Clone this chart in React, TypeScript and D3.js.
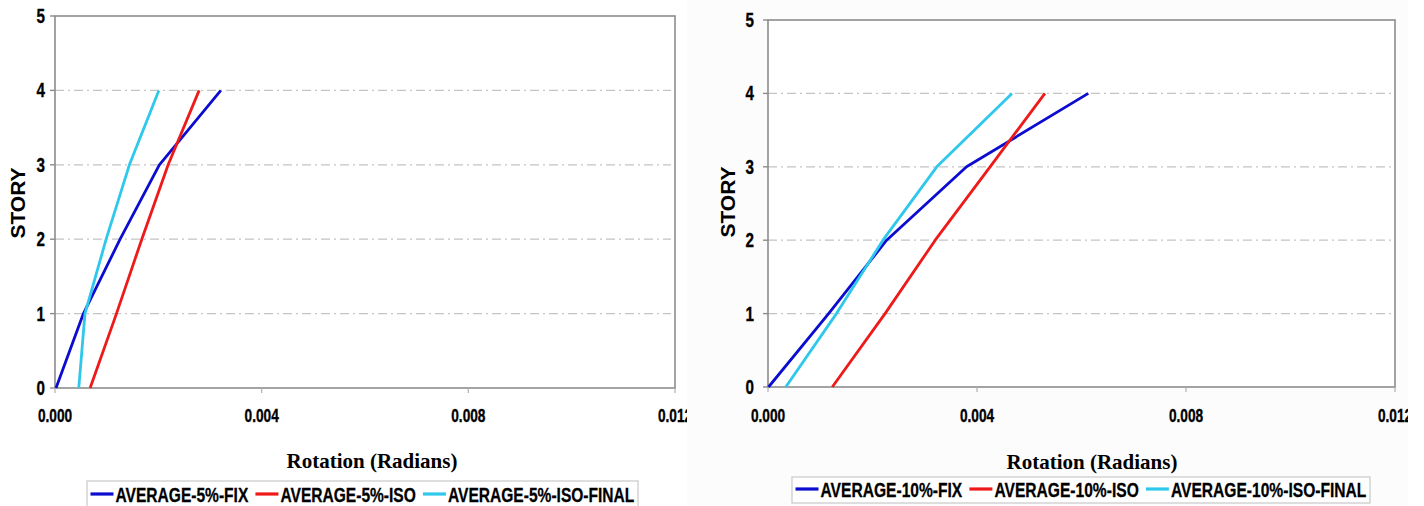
import React, { useEffect, useRef } from "react";
import * as d3 from "d3";

const stories = [0, 1, 2, 3, 4];
const xTicks = [0, 0.004, 0.008, 0.012];
const yTicks = [0, 1, 2, 3, 4, 5];
const gridStories = [1, 2, 3, 4];

const fix5 = [0.00002, 0.00055, 0.00126, 0.00202, 0.00321];
const iso5 = [0.00068, 0.00119, 0.00168, 0.00219, 0.00279];
const isoFinal5 = [0.00046, 0.00058, 0.00099, 0.00144, 0.00201];

const fix10 = [0.00001, 0.00116, 0.00227, 0.0038, 0.00613];
const iso10 = [0.00123, 0.00224, 0.0032, 0.00425, 0.0053];
const isoFinal10 = [0.00034, 0.00131, 0.0022, 0.00323, 0.00467];

const names5 = ["AVERAGE-5%-FIX", "AVERAGE-5%-ISO", "AVERAGE-5%-ISO-FINAL"];
const names10 = ["AVERAGE-10%-FIX", "AVERAGE-10%-ISO", "AVERAGE-10%-ISO-FINAL"];
const colors = ["#0c0cd0", "#ee1a1a", "#2ec8ec"];

const yTitle = "STORY";
const xTitle = "Rotation (Radians)";

const NARROW = 0.76;
const SANS = "'Liberation Sans', Arial, sans-serif";
const SERIF = "'Liberation Serif', 'Times New Roman', serif";

export default function App() {
  const ref = useRef<SVGSVGElement | null>(null);

  useEffect(() => {
    const svg = d3.select(ref.current);
    svg.selectAll("*").remove();

    const panels = [
      {
        id: "p5",
        left: 55, right: 675, top: 16, bottom: 388,
        clipX: 0, clipW: 687,
        yLabelX: 45, yTitleX: 18, yTitleY: 203,
        xTickY: 422, xTitleX: 372, xTitleY: 468,
        legend: { x0: 87, x1: 638, y0: 481, y1: 512, lineY: 494, textY: 502 },
        series: [fix5, iso5, isoFinal5],
        names: names5,
        bg: "#ffffff",
      },
      {
        id: "p10",
        left: 768, right: 1395, top: 20, bottom: 387,
        clipX: 687, clipW: 721,
        yLabelX: 754, yTitleX: 728, yTitleY: 202,
        xTickY: 422, xTitleX: 1092, xTitleY: 469,
        legend: { x0: 792, x1: 1370, y0: 477, y1: 503, lineY: 489, textY: 497 },
        series: [fix10, iso10, isoFinal10],
        names: names10,
        bg: "#fcfcfc",
      },
    ];

    const defs = svg.append("defs");

    panels.forEach((p) => {
      defs
        .append("clipPath")
        .attr("id", "clip-" + p.id)
        .append("rect")
        .attr("x", p.clipX)
        .attr("y", 0)
        .attr("width", p.clipW)
        .attr("height", 506);

      const g = svg.append("g").attr("clip-path", `url(#clip-${p.id})`);

      g.append("rect")
        .attr("x", p.clipX)
        .attr("y", 0)
        .attr("width", p.clipW)
        .attr("height", 506)
        .attr("fill", p.bg);

      const x = d3.scaleLinear().domain([0, 0.012]).range([p.left, p.right]);
      const y = d3.scaleLinear().domain([0, 5]).range([p.bottom, p.top]);

      g.append("rect")
        .attr("x", p.left)
        .attr("y", p.top)
        .attr("width", p.right - p.left)
        .attr("height", p.bottom - p.top)
        .attr("fill", "#ffffff");

      g.selectAll(".grid")
        .data(gridStories)
        .enter()
        .append("line")
        .attr("x1", p.left)
        .attr("x2", p.right - 4)
        .attr("y1", (d) => y(d))
        .attr("y2", (d) => y(d))
        .attr("stroke", "#c4c4c4")
        .attr("stroke-width", 1.2)
        .attr("stroke-dasharray", "9,4,2,4");

      g.append("rect")
        .attr("x", p.left)
        .attr("y", p.top)
        .attr("width", p.right - p.left)
        .attr("height", p.bottom - p.top)
        .attr("fill", "none")
        .attr("stroke", "#8c8c8c")
        .attr("stroke-width", 1.6);

      g.selectAll(".ytick")
        .data(yTicks)
        .enter()
        .append("line")
        .attr("x1", p.left - 5)
        .attr("x2", p.left)
        .attr("y1", (d) => y(d))
        .attr("y2", (d) => y(d))
        .attr("stroke", "#8c8c8c")
        .attr("stroke-width", 1.4);

      g.selectAll(".xtick")
        .data(xTicks)
        .enter()
        .append("line")
        .attr("x1", (d) => x(d))
        .attr("x2", (d) => x(d))
        .attr("y1", p.bottom)
        .attr("y2", p.bottom + 5)
        .attr("stroke", "#b0b0b0")
        .attr("stroke-width", 1.2);

      g.selectAll(".ylab")
        .data(yTicks)
        .enter()
        .append("text")
        .attr("transform", (d) => `translate(${p.yLabelX},${y(d) + 7}) scale(${NARROW},1)`)
        .attr("text-anchor", "end")
        .attr("font-family", SANS)
        .attr("font-weight", "bold")
        .attr("font-size", 20)
        .attr("fill", "#000")
        .attr("stroke", "#000")
        .attr("stroke-width", 0.35)
        .text((d) => String(d));

      const fmt = d3.format(".3f");
      g.selectAll(".xlab")
        .data(xTicks)
        .enter()
        .append("text")
        .attr("transform", (d) => `translate(${x(d)},${p.xTickY}) scale(${NARROW},1)`)
        .attr("text-anchor", "middle")
        .attr("font-family", SANS)
        .attr("font-weight", "bold")
        .attr("font-size", 18)
        .attr("fill", "#000")
        .attr("stroke", "#000")
        .attr("stroke-width", 0.35)
        .text((d) => fmt(d));

      g.append("text")
        .attr("transform", `translate(${p.yTitleX + 7},${p.yTitleY}) rotate(-90)`)
        .attr("text-anchor", "middle")
        .attr("font-family", SANS)
        .attr("font-weight", "bold")
        .attr("font-size", 21)
        .attr("fill", "#000")
        .text(yTitle);

      g.append("text")
        .attr("x", p.xTitleX)
        .attr("y", p.xTitleY)
        .attr("text-anchor", "middle")
        .attr("font-family", SERIF)
        .attr("font-weight", "bold")
        .attr("font-size", 21)
        .attr("fill", "#000")
        .text(xTitle);

      const line = d3
        .line<number>()
        .x((d) => x(d))
        .y((_, i) => y(stories[i]));

      p.series.forEach((s, i) => {
        g.append("path")
          .datum(s)
          .attr("d", line)
          .attr("fill", "none")
          .attr("stroke", colors[i])
          .attr("stroke-width", 2.8)
          .attr("stroke-linejoin", "round");
      });

      const L = p.legend;
      g.append("rect")
        .attr("x", L.x0)
        .attr("y", L.y0)
        .attr("width", L.x1 - L.x0)
        .attr("height", L.y1 - L.y0)
        .attr("fill", "#ffffff")
        .attr("stroke", "#c8c8c8")
        .attr("stroke-width", 1.2);

      const items = p.names.map((n, i) => {
        const t = g
          .append("text")
          .attr("font-family", SANS)
          .attr("font-weight", "bold")
          .attr("font-size", 21)
          .attr("fill", "#000")
          .attr("stroke", "#000")
          .attr("stroke-width", 0.3)
          .attr("text-anchor", "start")
          .text(n);
        const raw = (t.node() as SVGTextElement).getComputedTextLength();
        return { t, raw, i };
      });
      const lineLen = 23;
      const gapAfterLine = 2;
      const gapBetween = 7;
      const fixed = items.length * (lineLen + gapAfterLine) + gapBetween * (items.length - 1);
      const available = L.x1 - L.x0 - 7;
      const rawSum = items.reduce((a, it) => a + it.raw, 0);
      const sx = Math.min(NARROW, (available - fixed) / rawSum);
      const total = fixed + rawSum * sx;
      let cx = (L.x0 + L.x1) / 2 - total / 2;
      items.forEach((it) => {
        g.append("line")
          .attr("x1", cx)
          .attr("x2", cx + lineLen)
          .attr("y1", L.lineY)
          .attr("y2", L.lineY)
          .attr("stroke", colors[it.i])
          .attr("stroke-width", 3.2);
        cx += lineLen + gapAfterLine;
        it.t.attr("transform", `translate(${cx},${L.textY}) scale(${sx},1)`);
        cx += it.raw * sx + gapBetween;
      });
    });
  }, []);

  return (
    <svg
      ref={ref}
      width={1424}
      height={506}
      style={{ position: "absolute", left: 0, top: 0, background: "#ffffff" }}
    />
  );
}
